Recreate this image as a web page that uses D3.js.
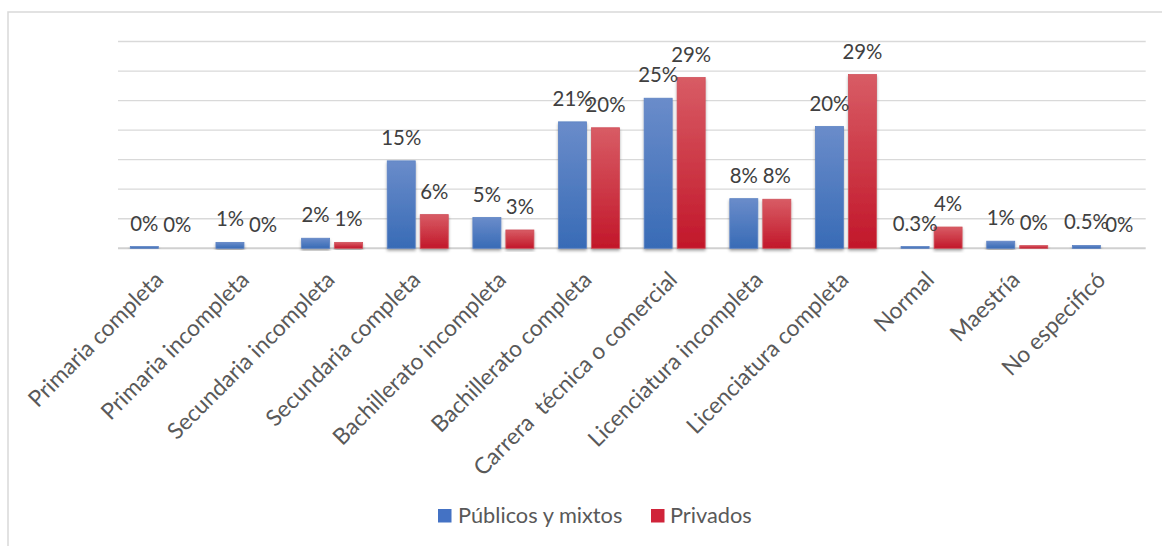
<!DOCTYPE html>
<html><head><meta charset="utf-8">
<script src="https://cdn.jsdelivr.net/npm/d3@7"></script>
<style>
body{margin:0;background:#fff}
svg{display:block;font-family:Lato,"Open Sans",sans-serif}
</style>
</head><body>
<svg id="c" width="1162" height="546"></svg>
<script>
// ---- data ----
const categories = ["Primaria completa","Primaria incompleta","Secundaria incompleta","Secundaria completa","Bachillerato incompleta","Bachillerato completa","Carrera  técnica o comercial","Licenciatura incompleta","Licenciatura completa","Normal","Maestría","No especificó"];
const seriesNames = ["Públicos y mixtos","Privados"];
const publicos = [0.3, 1.0, 1.7, 14.8, 5.2, 21.4, 25.4, 8.4, 20.6, 0.3, 1.2, 0.5];
const privados = [0, 0, 1.0, 5.7, 3.1, 20.4, 28.9, 8.3, 29.4, 3.6, 0.45, 0];
const publicosLabels = ["0%","1%","2%","15%","5%","21%","25%","8%","20%","0.3%","1%","0.5%"];
const privadosLabels = ["0%","0%","1%","6%","3%","20%","29%","8%","29%","4%","0%","0%"];
const yTicks = [0,5,10,15,20,25,30,35];

const svg = d3.select("#c");
const W = 1162, H = 546;
const plot = {left:118, right:1145.7, top:41.5, bottom:248.3};

function fit(str, target, extra){
  const t = svg.append("text").attr("font-size",100).text(str);
  if (extra) extra(t);
  const w = t.node().getComputedTextLength();
  t.remove();
  return 100*target/w;
}
const fsData = fit("15%", 40);
const fsAxis = fit("Licenciatura incompleta", 236);
const fsLegend = (fit("Públicos y mixtos",164)+fit("Privados",82))/2;

// defs
const defs = svg.append("defs");
function grad(id, top, bottom){
  const g = defs.append("linearGradient").attr("id",id).attr("x1",0).attr("y1",0).attr("x2",0).attr("y2",1);
  g.append("stop").attr("offset","0%").attr("stop-color",top);
  g.append("stop").attr("offset","100%").attr("stop-color",bottom);
}
grad("gBlue","#6A8CCA","#386BB6");
grad("gRed","#D85C65","#C2172A");
const f = defs.append("filter").attr("id","sh").attr("x","-30%").attr("y","-10%").attr("width","160%").attr("height","130%");
f.append("feDropShadow").attr("dx",0).attr("dy",2).attr("stdDeviation",1.8).attr("flood-color","#000").attr("flood-opacity",0.35);

// border
svg.append("rect").attr("x",8).attr("y",12).attr("width",1170).attr("height",560)
  .attr("fill","none").attr("stroke","#D9D9D9").attr("stroke-width",1.5);

// scales
const x0 = d3.scaleBand().domain(categories).range([plot.left, plot.right]).paddingInner(0.2877).paddingOuter(0.2877/2);
const x1 = d3.scaleBand().domain(seriesNames).range([0, x0.bandwidth()]).paddingInner(0.1515);
const y = d3.scaleLinear().domain([0,35]).range([plot.bottom, plot.top]);

// gridlines
svg.append("g").selectAll("line").data(yTicks).join("line")
  .attr("x1",plot.left).attr("x2",plot.right)
  .attr("y1",d=>y(d)).attr("y2",d=>y(d))
  .attr("stroke",d=>d===0?"#D0D0D0":"#D9D9D9")
  .attr("stroke-width",d=>d===0?2:1.3);

// bars
const rows = categories.map((c,i)=>({cat:c, vals:[
  {s:seriesNames[0], v:publicos[i], lab:publicosLabels[i], fill:"url(#gBlue)", stroke:"#5D83C4"},
  {s:seriesNames[1], v:privados[i], lab:privadosLabels[i], fill:"url(#gRed)", stroke:"#D0505A"}
]}));
const gCat = svg.append("g").selectAll("g").data(rows).join("g")
  .attr("transform",d=>`translate(${x0(d.cat)},0)`);
gCat.selectAll("rect").data(d=>d.vals).join("rect")
  .attr("x",d=>x1(d.s)).attr("width",x1.bandwidth())
  .attr("y",d=>y(d.v)).attr("height",d=>Math.max(0,y(0)-y(d.v)))
  .attr("fill",d=>d.fill).attr("stroke",d=>d.stroke).attr("stroke-width",0.8)
  .attr("filter",d=>d.v>0?"url(#sh)":null);
gCat.selectAll("text").data(d=>d.vals).join("text")
  .attr("x",d=>x1(d.s)+x1.bandwidth()/2).attr("y",d=>y(d.v)-16)
  .attr("text-anchor","middle").attr("font-size",fsData).attr("fill","#404040")
  .text(d=>d.lab);

// x axis
const ax = svg.append("g").attr("transform",`translate(0,${plot.bottom})`)
  .call(d3.axisBottom(x0).tickSize(0));
ax.select(".domain").remove();
ax.selectAll("text")
  .attr("x",0).attr("y",0).attr("dy",0)
  .attr("transform","translate(4,33) rotate(-45)")
  .attr("text-anchor","end")
  .attr("font-size",fsAxis).attr("font-family","Lato,'Open Sans',sans-serif")
  .attr("fill","#595959").style("white-space","pre");

// legend
const legend = [
  {name:seriesNames[0], color:"#4472C4", x:438, tx:458},
  {name:seriesNames[1], color:"#D0243A", x:651, tx:670}
];
const lg = svg.append("g");
lg.selectAll("rect").data(legend).join("rect")
  .attr("x",d=>d.x).attr("y",509).attr("width",13.5).attr("height",13.5).attr("fill",d=>d.color);
lg.selectAll("text").data(legend).join("text")
  .attr("x",d=>d.tx).attr("y",523).attr("font-size",fsLegend).attr("fill","#595959").text(d=>d.name);
</script>
</body></html>
